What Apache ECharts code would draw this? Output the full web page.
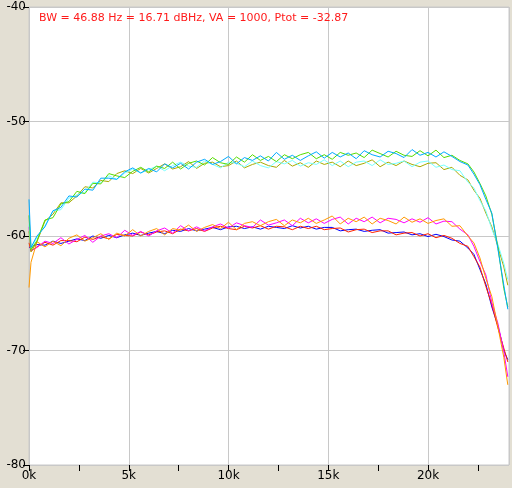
<!DOCTYPE html>
<html>
<head>
<meta charset="utf-8">
<script src="https://cdn.jsdelivr.net/npm/echarts/dist/echarts.min.js"></script>
<style>
  html, body { margin: 0; padding: 0; background: #e3dfd3; }
  #chart { width: 512px; height: 488px; }
</style>
</head>
<body>
<div id="chart"></div>
<script>
// frequency in kHz, shared by every trace
const freqs = [0, 0.1,
  0.4, 0.8, 1.2, 1.6, 2.0, 2.4, 2.8, 3.2, 3.6, 4.0,
  4.4, 4.8, 5.2, 5.6, 6.0, 6.4, 6.8, 7.2, 7.6, 8.0,
  8.4, 8.8, 9.2, 9.6, 10.0, 10.4, 10.8, 11.2, 11.6, 12.0,
  12.4, 12.8, 13.2, 13.6, 14.0, 14.4, 14.8, 15.2, 15.6, 16.0,
  16.4, 16.8, 17.2, 17.6, 18.0, 18.4, 18.8, 19.2, 19.6, 20.0,
  20.4, 20.8, 21.2, 21.6, 22.0,
  22.3, 22.6, 22.9, 23.2, 23.5, 23.8, 24.0]

const cyan = [-56.8, -61.0,
  -60.0, -59.2, -57.8, -57.5, -56.5, -56.6, -55.9, -56.0, -54.95, -54.95,
  -55.05, -54.4, -54.05, -54.5, -54.1, -54.4, -53.7, -54.05, -53.65, -54.15,
  -53.55, -53.3, -53.75, -53.5, -53.05, -53.7, -53.15, -53.4, -53.0, -53.45,
  -52.7, -53.3, -52.95, -53.4, -53.0, -52.65, -53.2, -52.7, -53.1, -52.75,
  -53.25, -52.55, -52.9, -53.1, -52.6, -52.8, -53.15, -52.45, -52.95, -52.7,
  -53.1, -52.65, -53.05, -53.5, -53.8,
  -54.6, -55.5, -56.8, -58.0, -61.1, -64.3, -66.4]

const green = [-58.2, -61.2,
  -60.4, -58.6, -58.4, -57.2, -57.0, -56.1, -56.3, -55.4, -55.45, -54.55,
  -54.75, -54.9, -54.35, -54.0, -54.4, -53.9, -54.1, -53.55, -54.15, -53.65,
  -53.45, -53.8, -53.15, -53.6, -53.75, -53.1, -53.55, -52.9, -53.4, -53.05,
  -53.5, -52.9, -53.25, -52.9, -52.7, -53.25, -52.9, -53.3, -52.7, -52.95,
  -52.75, -53.15, -52.5, -52.8, -53.1, -52.6, -52.95, -53.05, -52.55, -53.0,
  -52.5, -53.15, -52.95, -53.4, -53.7,
  -54.4, -55.4, -56.5, -58.1, -60.9, -64.6, -66.2]

const lightCyan = [-59.0, -61.1,
  -60.1, -59.1, -57.8, -57.7, -56.7, -56.4, -56.2, -55.3, -55.35, -54.75,
  -55.05, -54.5, -54.15, -54.5, -54.2, -53.9, -54.3, -53.85, -53.55, -53.9,
  -54.0, -53.45, -53.75, -54.05, -53.55, -53.65, -53.95, -53.45, -53.85, -54.05,
  -53.5, -53.7, -53.4, -53.9, -53.6, -53.75, -53.35, -53.85, -53.45, -53.95,
  -53.55, -53.45, -53.85, -53.35, -53.75, -53.65, -53.45, -53.95, -53.55, -53.45,
  -54.0, -53.8, -54.2, -54.3, -55.3,
  -55.8, -56.9, -57.8, -59.4, -60.7, -62.4, -63.8]

const olive = [-59.6, -61.4,
  -60.5, -58.7, -58.1, -57.1, -57.1, -56.5, -55.7, -55.8, -55.15, -55.25,
  -54.55, -54.3, -54.55, -54.1, -54.5, -54.1, -53.7, -54.15, -53.95, -53.5,
  -54.1, -53.65, -53.55, -53.95, -53.85, -53.45, -54.05, -53.75, -53.55, -53.85,
  -54.0, -53.4, -53.9, -53.6, -54.0, -53.45, -53.75, -53.55, -53.95, -53.45,
  -53.85, -53.65, -53.35, -53.95, -53.55, -53.85, -53.45, -53.75, -53.95, -53.65,
  -53.6, -54.2, -54.0, -54.7, -55.1,
  -56.0, -56.7, -58.0, -59.2, -60.9, -62.7, -64.3]

const orange = [-64.5, -62.3,
  -60.5, -60.95, -60.45, -60.85, -60.2, -59.9, -60.45, -60.15, -59.8, -60.3,
  -59.75, -60.0, -59.45, -60.0, -59.6, -59.35, -59.9, -59.35, -59.5, -59.05,
  -59.6, -59.25, -59.0, -59.35, -58.8, -59.45, -58.9, -58.75, -59.1, -58.75,
  -58.55, -59.1, -58.6, -58.85, -58.45, -58.9, -58.6, -58.25, -58.95, -58.45,
  -58.75, -58.35, -58.95, -58.45, -58.65, -58.95, -58.35, -58.8, -58.5, -58.9,
  -58.65, -58.5, -59.15, -59.1, -60.0,
  -60.6, -61.9, -63.7, -65.3, -67.9, -70.6, -73.0]

const magenta = [-59.2, -61.3,
  -61.0, -60.45, -60.65, -60.15, -60.7, -60.3, -59.95, -60.55, -60.0, -59.8,
  -60.15, -59.5, -59.95, -59.6, -60.0, -59.55, -59.3, -59.75, -59.1, -59.55,
  -59.2, -59.55, -59.2, -58.95, -59.3, -58.85, -59.1, -59.25, -58.6, -59.05,
  -58.85, -58.6, -59.1, -58.45, -58.85, -58.5, -58.9, -58.55, -58.35, -58.95,
  -58.45, -58.75, -58.35, -58.85, -58.45, -58.55, -58.85, -58.5, -58.8, -58.4,
  -58.95, -58.7, -58.75, -59.4, -59.9,
  -60.9, -62.2, -63.4, -65.8, -67.6, -70.1, -72.3]

const blue = [-61.0, -61.1,
  -60.75, -60.8, -60.45, -60.65, -60.45, -60.25, -60.4, -60.0, -60.2, -59.95,
  -60.15, -59.9, -59.75, -59.95, -59.75, -59.6, -59.8, -59.5, -59.6, -59.35,
  -59.55, -59.4, -59.25, -59.45, -59.2, -59.15, -59.35, -59.2, -59.4, -59.15,
  -59.25, -59.35, -59.1, -59.3, -59.15, -59.4, -59.25, -59.25, -59.55, -59.45,
  -59.4, -59.6, -59.5, -59.45, -59.75, -59.7, -59.65, -59.9, -59.8, -60.05,
  -59.85, -60.05, -60.35, -60.45, -61.05,
  -61.6, -62.9, -64.2, -66.2, -67.8, -70.0, -70.8]

const red = [-60.6, -61.3,
  -60.95, -60.55, -60.8, -60.4, -60.4, -60.5, -60.1, -60.3, -60.05, -60.25,
  -59.85, -59.95, -60.0, -59.65, -59.9, -59.65, -59.55, -59.8, -59.4, -59.55,
  -59.35, -59.6, -59.3, -59.15, -59.35, -59.45, -59.15, -59.3, -59.1, -59.4,
  -59.15, -59.2, -59.45, -59.15, -59.35, -59.15, -59.45, -59.35, -59.3, -59.65,
  -59.45, -59.4, -59.7, -59.55, -59.55, -59.9, -59.75, -59.7, -60.0, -59.8,
  -60.15, -59.95, -60.2, -60.65, -60.9,
  -61.8, -62.7, -64.4, -66.0, -68.0, -69.8, -71.0]

const xTicks = [0, 2.5, 5, 7.5, 10, 12.5, 15, 17.5, 20, 22.5]
const xLabels = [0, 5, 10, 15, 20]
const infoText = 'BW = 46.88 Hz = 16.71 dBHz, VA = 1000, Ptot = -32.87'

const font = 'DejaVu Sans'
const xMax = 24.06
const pairs = vals => vals.map((v, i) => [freqs[i], v])

const traces = [
  { data: blue, color: '#0000ff' },
  { data: red, color: '#ff2200' },
  { data: magenta, color: '#ff00ff' },
  { data: orange, color: '#ff9900' },
  { data: olive, color: '#aaaa00' },
  { data: lightCyan, color: '#77ffff' },
  { data: green, color: '#55dd00' },
  { data: cyan, color: '#00aaff' }
]

const chart = echarts.init(document.getElementById('chart'), null, { renderer: 'canvas' })
chart.setOption({
  animation: false,
  backgroundColor: '#e3dfd3',
  title: {
    text: infoText,
    left: 39,
    top: 13,
    padding: 0,
    textStyle: { color: '#ff1a1a', fontSize: 11, fontWeight: 'normal', fontFamily: font }
  },
  grid: {
    left: 29, right: 3, top: 7, bottom: 23,
    show: true, backgroundColor: '#ffffff', borderColor: '#c8c8c8', borderWidth: 1
  },
  xAxis: [
    {
      // grid lines and labels every 5k
      type: 'value', min: 0, max: xMax, interval: 5,
      axisLine: { show: false },
      axisTick: { show: false },
      axisLabel: {
        customValues: xLabels,
        formatter: v => v + 'k',
        color: '#000', fontSize: 12, fontFamily: font, margin: 5
      },
      splitLine: { show: true, lineStyle: { color: '#c8c8c8', width: 1 } }
    },
    {
      // tick marks every 2.5k, no lines
      type: 'value', min: 0, max: xMax, position: 'bottom',
      axisLine: { show: false },
      axisTick: { show: true, length: 6, customValues: xTicks, lineStyle: { color: '#000' } },
      axisLabel: { show: false },
      splitLine: { show: false }
    }
  ],
  yAxis: {
    type: 'value',
    min: -80,
    max: -40,
    interval: 10,
    axisLine: { show: false },
    axisTick: { show: true, length: 6, lineStyle: { color: '#000' } },
    axisLabel: { color: '#000', fontSize: 12, fontFamily: font, margin: 3 },
    splitLine: { show: true, lineStyle: { color: '#c8c8c8', width: 1 } }
  },
  series: traces.map(t => ({
    type: 'line',
    xAxisIndex: 0,
    data: pairs(t.data),
    showSymbol: false,
    color: t.color,
    lineStyle: { width: 1, color: t.color }
  }))
})
</script>
</body>
</html>
